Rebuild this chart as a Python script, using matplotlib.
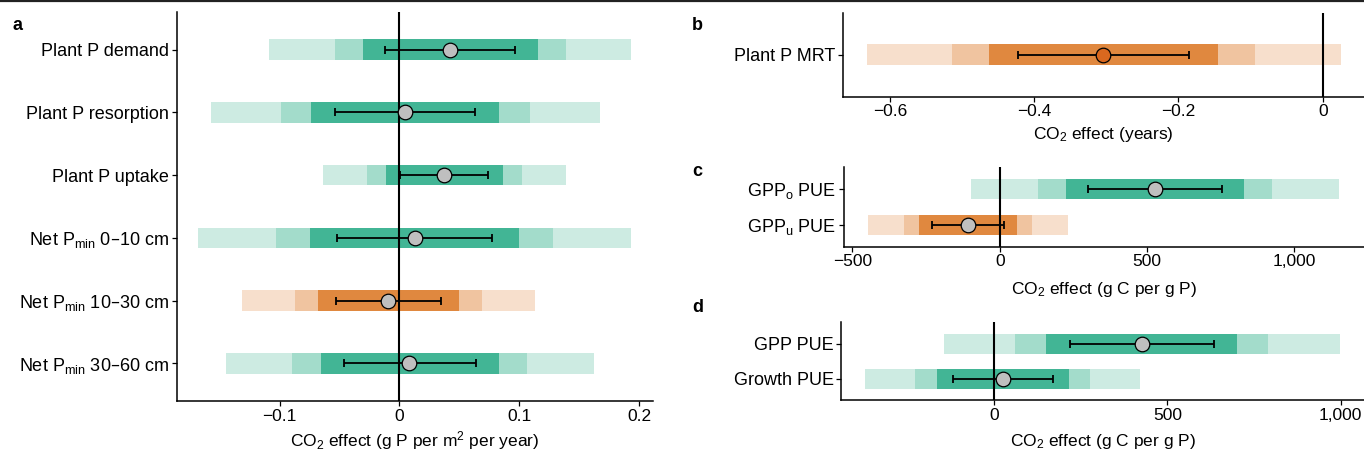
import numpy as np
import matplotlib
matplotlib.use("Agg")
import matplotlib.pyplot as plt
from matplotlib.lines import Line2D

plt.rcParams['font.family'] = ['Liberation Sans', 'DejaVu Sans']
plt.rcParams['mathtext.default'] = 'regular'

# colours: light / mid / dark band
green = ["#cdebe2", "#a3dccb", "#42b595"]
orange = ["#f7dfcc", "#f0c4a0", "#e0883f"]

# ---- panel a (rows from top to bottom)
labels_a = ["Plant P demand", "Plant P resorption", "Plant P uptake",
            "Net P$_{min}$ 0–10 cm", "Net P$_{min}$ 10–30 cm", "Net P$_{min}$ 30–60 cm"]
mean_a = [0.042, 0.005, 0.0375, 0.0128, -0.0095, 0.0083]
err_lo_a = [-0.0122, -0.0537, 0.0008, -0.0523, -0.0531, -0.0465]
err_hi_a = [0.0968, 0.0634, 0.074, 0.0776, 0.0348, 0.064]
dark_lo_a = [-0.0303, -0.0734, -0.0111, -0.0745, -0.0681, -0.0654]
dark_hi_a = [0.1152, 0.0834, 0.0862, 0.0999, 0.0498, 0.0832]
mid_lo_a = [-0.0537, -0.0987, -0.027, -0.1026, -0.0871, -0.0896]
mid_hi_a = [0.1391, 0.109, 0.1024, 0.1277, 0.069, 0.1068]
light_lo_a = [-0.1085, -0.1572, -0.0637, -0.1677, -0.1313, -0.1446]
light_hi_a = [0.193, 0.1672, 0.1388, 0.1928, 0.1127, 0.1622]
sign_a = ["pos", "pos", "pos", "pos", "neg", "pos"]
ticks_a = [-0.1, 0, 0.1, 0.2]
ticklabels_a = ["−0.1", "0", "0.1", "0.2"]

# ---- panel b
labels_b = ["Plant P MRT"]
mean_b = [-0.3045]
err_lo_b = [-0.4224]
err_hi_b = [-0.1855]
dark_lo_b = [-0.4628]
dark_hi_b = [-0.1456]
mid_lo_b = [-0.5136]
mid_hi_b = [-0.0943]
light_lo_b = [-0.632]
light_hi_b = [0.0248]
sign_b = ["neg"]
ticks_b = [-0.6, -0.4, -0.2, 0]
ticklabels_b = ["−0.6", "−0.4", "−0.2", "0"]

# ---- panel c
labels_c = ["GPP$_o$ PUE", "GPP$_u$ PUE"]
mean_c = [528, -108]
err_lo_c = [301, -230]
err_hi_c = [754, 15]
dark_lo_c = [224, -273]
dark_hi_c = [829, 58]
mid_lo_c = [130, -326]
mid_hi_c = [925, 111]
light_lo_c = [-97, -448]
light_hi_c = [1152, 233]
sign_c = ["pos", "neg"]
ticks_c = [-500, 0, 500, 1000]
ticklabels_c = ["−500", "0", "500", "1,000"]

# ---- panel d
labels_d = ["GPP PUE", "Growth PUE"]
mean_d = [426, 25]
err_lo_d = [219, -118]
err_hi_d = [633, 170]
dark_lo_d = [150, -166]
dark_hi_d = [702, 217]
mid_lo_d = [60, -227]
mid_hi_d = [791, 278]
light_lo_d = [-146, -372]
light_hi_d = [998, 422]
sign_d = ["pos", "pos"]
ticks_d = [0, 500, 1000]
ticklabels_d = ["0", "500", "1,000"]

W, H = 1364, 455
fig = plt.figure(figsize=(W / 100, H / 100), dpi=100)


def make_ax(l, r, t, b):
    return fig.add_axes([l / W, 1 - b / H, (r - l) / W, (b - t) / H])


def forest(ax, labels, mean, elo, ehi, dlo, dhi, mlo, mhi, llo, lhi, sign,
           bh, point_orange=False):
    y = np.arange(len(labels))
    for i in range(len(labels)):
        cols = green if sign[i] == "pos" else orange
        ax.barh(y[i], lhi[i] - llo[i], left=llo[i], height=bh, color=cols[0], lw=0, zorder=1)
        ax.barh(y[i], mhi[i] - mlo[i], left=mlo[i], height=bh, color=cols[1], lw=0, zorder=1)
        ax.barh(y[i], dhi[i] - dlo[i], left=dlo[i], height=bh, color=cols[2], lw=0, zorder=1)
    ax.axvline(0, color="black", lw=1.5, zorder=2)
    m = np.array(mean)
    ax.errorbar(m, y, xerr=[m - np.array(elo), np.array(ehi) - m], fmt="none",
                ecolor="black", elinewidth=1.3, capsize=2.8, capthick=1.3, zorder=3)
    fc = "#d9681f" if point_orange else "#bfbfbf"
    ax.plot(m, y, "o", ms=10.5, mfc=fc, mec="black", mew=0.9, zorder=4)
    ax.set_yticks(y)
    ax.set_yticklabels(labels)
    for s in ["top", "right"]:
        ax.spines[s].set_visible(False)
    for s in ["left", "bottom"]:
        ax.spines[s].set_linewidth(1.1)
    ax.tick_params(width=0.9, length=3.5, pad=2)
    ax.tick_params(axis="y", labelsize=13)
    ax.tick_params(axis="x", labelsize=12.5)


ax_a = make_ax(177, 653, 12, 401)
forest(ax_a, labels_a, mean_a, err_lo_a, err_hi_a, dark_lo_a, dark_hi_a,
       mid_lo_a, mid_hi_a, light_lo_a, light_hi_a, sign_a, 0.33)
ax_a.set_xlim(-0.1855, 0.2115)
ax_a.set_ylim(5.6, -0.6)
ax_a.set_xticks(ticks_a)
ax_a.set_xticklabels(ticklabels_a)
ax_a.set_xlabel("CO$_2$ effect (g P per m$^2$ per year)", fontsize=12.5, labelpad=4)

ax_b = make_ax(843, 1364, 12.7, 96.7)
forest(ax_b, labels_b, mean_b, err_lo_b, err_hi_b, dark_lo_b, dark_hi_b,
       mid_lo_b, mid_hi_b, light_lo_b, light_hi_b, sign_b, 0.49, point_orange=True)
ax_b.set_xlim(-0.665, 0.0572)
ax_b.set_ylim(1.0, -1.0)
ax_b.set_xticks(ticks_b)
ax_b.set_xticklabels(ticklabels_b)
ax_b.set_xlabel("CO$_2$ effect (years)", fontsize=12.5, labelpad=4)

ax_c = make_ax(843.6, 1364, 166.7, 246.7)
forest(ax_c, labels_c, mean_c, err_lo_c, err_hi_c, dark_lo_c, dark_hi_c,
       mid_lo_c, mid_hi_c, light_lo_c, light_hi_c, sign_c, 0.56)
ax_c.set_xlim(-530, 1237)
ax_c.set_ylim(1.62, -0.62)
ax_c.set_xticks(ticks_c)
ax_c.set_xticklabels(ticklabels_c)
ax_c.set_xlabel("CO$_2$ effect (g C per g P)", fontsize=12.5, labelpad=8)

ax_d = make_ax(841.4, 1364, 321.7, 400)
forest(ax_d, labels_d, mean_d, err_lo_d, err_hi_d, dark_lo_d, dark_hi_d,
       mid_lo_d, mid_hi_d, light_lo_d, light_hi_d, sign_d, 0.57)
ax_d.set_xlim(-440.6, 1067)
ax_d.set_ylim(1.6, -0.62)
ax_d.set_xticks(ticks_d)
ax_d.set_xticklabels(ticklabels_d)
ax_d.set_xlabel("CO$_2$ effect (g C per g P)", fontsize=12.5, labelpad=7)

# panel letters
for letter, px, py in [("a", 12, 25), ("b", 692, 25), ("c", 692, 172), ("d", 692, 307)]:
    fig.text(px / W, 1 - py / H, letter, fontsize=13, fontweight="bold", va="center", ha="left")

# top rule
fig.add_artist(Line2D([0, 1], [1 - 1 / H, 1 - 1 / H], color="#222222", lw=1.6))

fig.savefig("out.png", dpi=100)
